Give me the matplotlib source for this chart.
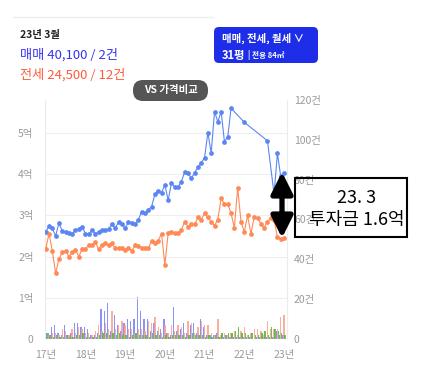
import numpy as np
import matplotlib.pyplot as plt
from matplotlib.patches import FancyBboxPatch, Rectangle

plt.rcParams['font.family'] = ['Noto Sans CJK KR', 'DejaVu Sans']

#%% 데이터 (17년 1월 = 0, 월 단위)
sale_x = list(range(0, 57)) + [60, 67, 69, 70, 71, 72]
sale_y = [2.60, 2.74, 2.69, 2.50, 2.81, 2.63, 2.60, 2.58, 2.56, 2.64,
          2.67, 2.73, 2.56, 2.55, 2.64, 2.55, 2.60, 2.64, 2.64, 2.67,
          2.78, 2.69, 2.83, 2.78, 2.69, 2.83, 2.81, 2.78, 2.90, 3.09,
          3.05, 3.13, 3.21, 3.52, 3.60, 3.55, 3.74, 3.37, 3.79, 3.69,
          3.69, 3.82, 4.06, 4.02, 3.90, 4.04, 4.17, 4.28, 4.40, 5.01,
          4.51, 5.52, 5.27, 5.52, 4.79, 4.90, 5.60,
          5.26, 4.81, 3.51, 4.51, 3.95, 4.02]

rent_x = list(range(0, 73))
rent_y = [2.18, 2.56, 2.14, 1.59, 1.94, 2.10, 2.14, 2.00, 2.10, 2.16,
          2.00, 2.18, 2.18, 2.28, 2.28, 2.35, 2.18, 2.28, 2.32, 2.27,
          2.32, 2.20, 2.20, 2.22, 2.16, 2.22, 2.14, 2.27, 2.25, 2.20,
          2.20, 2.20, 2.38, 2.32, 2.39, 2.56, 1.80, 2.57, 2.60, 2.58,
          2.58, 2.65, 2.85, 2.73, 2.80, 2.78, 2.95, 2.90, 3.05, 2.95,
          2.85, 2.75, 2.90, 3.41, 3.28, 3.28, 3.05, 2.70, 3.67, 2.85,
          2.60, 3.00, 2.55, 2.97, 2.93, 2.80, 2.70, 2.85, 2.93, 2.89,
          2.48, 2.43, 2.44]

# 거래량 (건)
cnt_sale = [9, 3, 6, 7, 3, 2, 7, 2, 3, 8, 8, 6, 6, 5, 2, 2, 3, 15, 14, 18,
            4, 12, 7, 4, 8, 10, 9, 10, 21, 14, 10, 10, 4, 8, 4, 5, 10, 3, 2, 16,
            4, 5, 8, 3, 7, 8, 3, 10, 6, 2, 2, 2, 3, 1, 1, 2, 1, 1, 1, 1,
            1, 1, 1, 0, 1, 1, 1, 1, 1, 1, 4, 2, 2]
cnt_rent = [5, 2, 3, 3, 2, 5, 4, 2, 5, 3, 6, 5, 3, 3, 2, 4, 7, 4, 8, 5,
            14, 5, 7, 9, 7, 5, 5, 3, 5, 5, 4, 9, 8, 11, 6, 3, 7, 3, 7, 4,
            7, 6, 3, 9, 8, 3, 6, 9, 7, 7, 3, 2, 10, 2, 3, 2, 3, 4, 2, 4,
            6, 2, 3, 5, 5, 4, 2, 9, 5, 5, 5, 11, 12]
cnt_month = [3, 2, 1, 2, 1, 1, 2, 1, 1, 2, 2, 3, 1, 1, 1, 1, 2, 3, 3, 2,
             3, 2, 3, 2, 2, 1, 2, 3, 2, 2, 2, 1, 3, 2, 2, 1, 2, 1, 2, 2,
             2, 2, 1, 2, 3, 2, 2, 2, 1, 2, 1, 2, 1, 3, 2, 3, 3, 4, 6, 3,
             3, 2, 3, 2, 2, 3, 4, 2, 6, 5, 4, 3, 2]

year_ticks = [0, 12, 24, 36, 48, 60, 72]
year_labels = ['17년', '18년', '19년', '20년', '21년', '22년', '23년']
price_ticks = [0, 1, 2, 3, 4, 5]
price_labels = ['0', '1억', '2억', '3억', '4억', '5억']
cnt_ticks = [0, 20, 40, 60, 80, 100, 120]
cnt_labels = ['0', '20건', '40건', '60건', '80건', '100건', '120건']

#%% 그림
W, H = 437, 375
fig = plt.figure(figsize=(W/100, H/100), dpi=100)
x0, x1, y0, y1 = 44.7, 287, 100, 339
rect = [x0/W, 1 - y1/H, (x1 - x0)/W, (y1 - y0)/H]

gray = '#9a9a9a'
axb = fig.add_axes(rect)
axb.set_xlim(-0.3, 72.9)
axb.set_ylim(0, 120)
m = np.arange(len(cnt_sale))
bw = 0.42
axb.bar(m - 0.3, cnt_sale, width=bw, color='#7780f7', alpha=0.85, zorder=2)
axb.bar(m, cnt_rent, width=bw, color='#f8a090', alpha=0.85, zorder=2)
axb.bar(m + 0.3, cnt_month, width=bw, color='#5cba3c', alpha=0.9, zorder=3)
axb.yaxis.tick_right()
axb.set_yticks(cnt_ticks)
axb.set_yticklabels(cnt_labels)
axb.set_xticks(year_ticks)
axb.set_xticklabels(year_labels)
axb.tick_params(length=0, labelsize=7.5, colors=gray, pad=5)
axb.tick_params(axis='x', pad=8)
for s in ['top', 'bottom']:
    axb.spines[s].set_visible(False)
for s in ['left', 'right']:
    axb.spines[s].set_color('#ececec')

axl = fig.add_axes(rect, sharex=axb)
axl.patch.set_alpha(0)
axl.set_ylim(0, 5.8)
axl.set_yticks(price_ticks)
axl.set_yticklabels(price_labels)
axl.tick_params(length=0, labelsize=7.5, colors=gray, pad=8)
axl.tick_params(axis='x', labelbottom=False)
axl.grid(axis='y', color='#eeeeee', linewidth=0.8)
axl.set_axisbelow(True)
for s in axl.spines.values():
    s.set_visible(False)
axl.plot(sale_x, sale_y, '-o', color='#5b86f2', lw=0.8, ms=2.4, zorder=5)
axl.plot(rent_x, rent_y, '-o', color='#ff8a55', lw=0.8, ms=2.4, zorder=5)

#%% 텍스트, 상자
ov = fig.add_axes([0, 0, 1, 1], zorder=10)
ov.set_xlim(0, W)
ov.set_ylim(H, 0)
ov.axis('off')
ov.plot([13, 213], [17, 17], color='#eeeeee', lw=1)
ov.text(20, 35, '23년 3월', fontsize=7.5, fontweight='bold', color='#222222', va='center')
ov.text(20, 55, '매매 40,100 / 2건', fontsize=9.5, color='#3434f0', va='center')
ov.text(20, 75, '전세 24,500 / 12건', fontsize=9.5, color='#ff5a3a', va='center')

ov.add_patch(FancyBboxPatch((133, 80), 75, 21, boxstyle='round,pad=0,rounding_size=10',
                            fc='#555555', ec='none'))
ov.text(170.5, 90.5, 'VS 가격비교', fontsize=7.5, fontweight='bold', color='white',
        ha='center', va='center')

ov.add_patch(FancyBboxPatch((214, 27), 104, 36, boxstyle='round,pad=0,rounding_size=5',
                            fc='#1e2de8', ec='none'))
ov.text(222, 38, '매매, 전세, 월세 ∨', fontsize=7.5, fontweight='bold', color='white', va='center')
ov.text(222, 55, '31평', fontsize=8, fontweight='bold', color='white', va='center')
ov.text(248, 55, '| 전용 84㎡', fontsize=5.5, fontweight='bold', color='white', va='center')

# 투자금 표시
ov.annotate('', xy=(282, 172), xytext=(282, 238),
            arrowprops=dict(arrowstyle='<|-|>,head_length=1.3,head_width=0.65',
                            color='black', lw=3.8, shrinkA=0, shrinkB=0))
ov.add_patch(Rectangle((294.5, 178), 112, 59, fill=False, ec='black', lw=1.5))
ov.text(357, 198, '23. 3', fontsize=13, color='black', ha='center', va='center')
ov.text(357, 220, '투자금 1.6억', fontsize=13, color='black', ha='center', va='center')

fig.savefig('out.png', dpi=100)
